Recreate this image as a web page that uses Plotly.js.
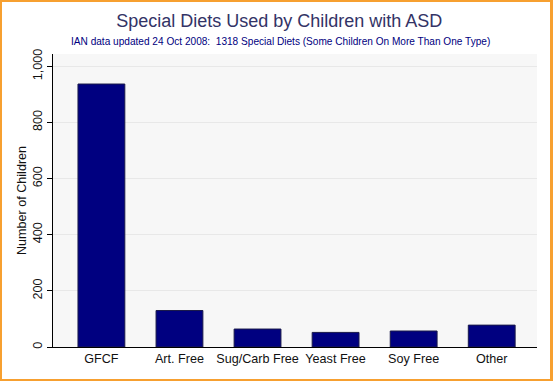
<!DOCTYPE html>
<html>
<head>
<meta charset="utf-8">
<script src="https://cdn.plot.ly/plotly-3.0.1.min.js"></script>
<style>
html,body{margin:0;padding:0;background:#fff;}
#wrap{position:relative;width:553px;height:381px;}
#chart{width:553px;height:381px;}
#frame{position:absolute;left:0;top:0;width:553px;height:381px;box-sizing:border-box;border:2px solid #F7A030;border-right-width:3px;pointer-events:none;}
</style>
</head>
<body>
<div id="wrap"><div id="chart"></div><div id="frame"></div></div>
<script>
var categories = ["GFCF", "Art. Free", "Sug/Carb Free", "Yeast Free", "Soy Free", "Other"];
var children = [937, 130, 64, 52, 57, 78];

var trace = {
  type: "bar",
  x: categories,
  y: children,
  width: 0.6,
  marker: {color: "#000080", line: {color: "#1a1a4a", width: 1}},
  hoverinfo: "x+y"
};

var layout = {
  width: 553, height: 381,
  margin: {l: 53, r: 16, t: 54, b: 34},
  paper_bgcolor: "#ffffff",
  plot_bgcolor: "#f7f7f7",
  font: {family: "Liberation Sans, Arial, sans-serif", size: 12, color: "#222"},
  showlegend: false,
  title: {text: "Special Diets Used by Children with ASD", x: 0.505, xanchor: "center", y: 0.945, yanchor: "middle",
          font: {size: 18, color: "#333366", family: "Liberation Sans, Arial, sans-serif"}},
  annotations: [{
    text: "IAN data updated 24 Oct 2008:  1318 Special Diets (Some Children On More Than One Type)",
    xref: "paper", yref: "paper", x: 0.47, y: 1, yshift: 13, xanchor: "center", yanchor: "middle",
    showarrow: false, font: {size: 10.1, color: "#000080"}
  }],
  xaxis: {
    type: "category",
    range: [-0.62, 5.58],
    showline: true, linecolor: "#000", linewidth: 1,
    ticks: "", showgrid: false,
    tickfont: {size: 12.6, color: "#111"},
    fixedrange: true
  },
  yaxis: {
    range: [0, 1044],
    tickvals: [0, 200, 400, 600, 800, 1000],
    ticktext: ["0", "200", "400", "600", "800", "1,000"],
    tickangle: -90,
    showline: true, linecolor: "#000", linewidth: 1,
    ticks: "outside", ticklen: 5, tickcolor: "#000",
    showgrid: true, gridcolor: "#e8e8e8", gridwidth: 1,
    zeroline: false,
    tickfont: {size: 12.6, color: "#111"},
    title: {text: "Number of Children", font: {size: 12.6, color: "#111"}, standoff: 1},
    fixedrange: true
  }
};

Plotly.newPlot("chart", [trace], layout, {displayModeBar: false, staticPlot: true});
</script>
</body>
</html>
